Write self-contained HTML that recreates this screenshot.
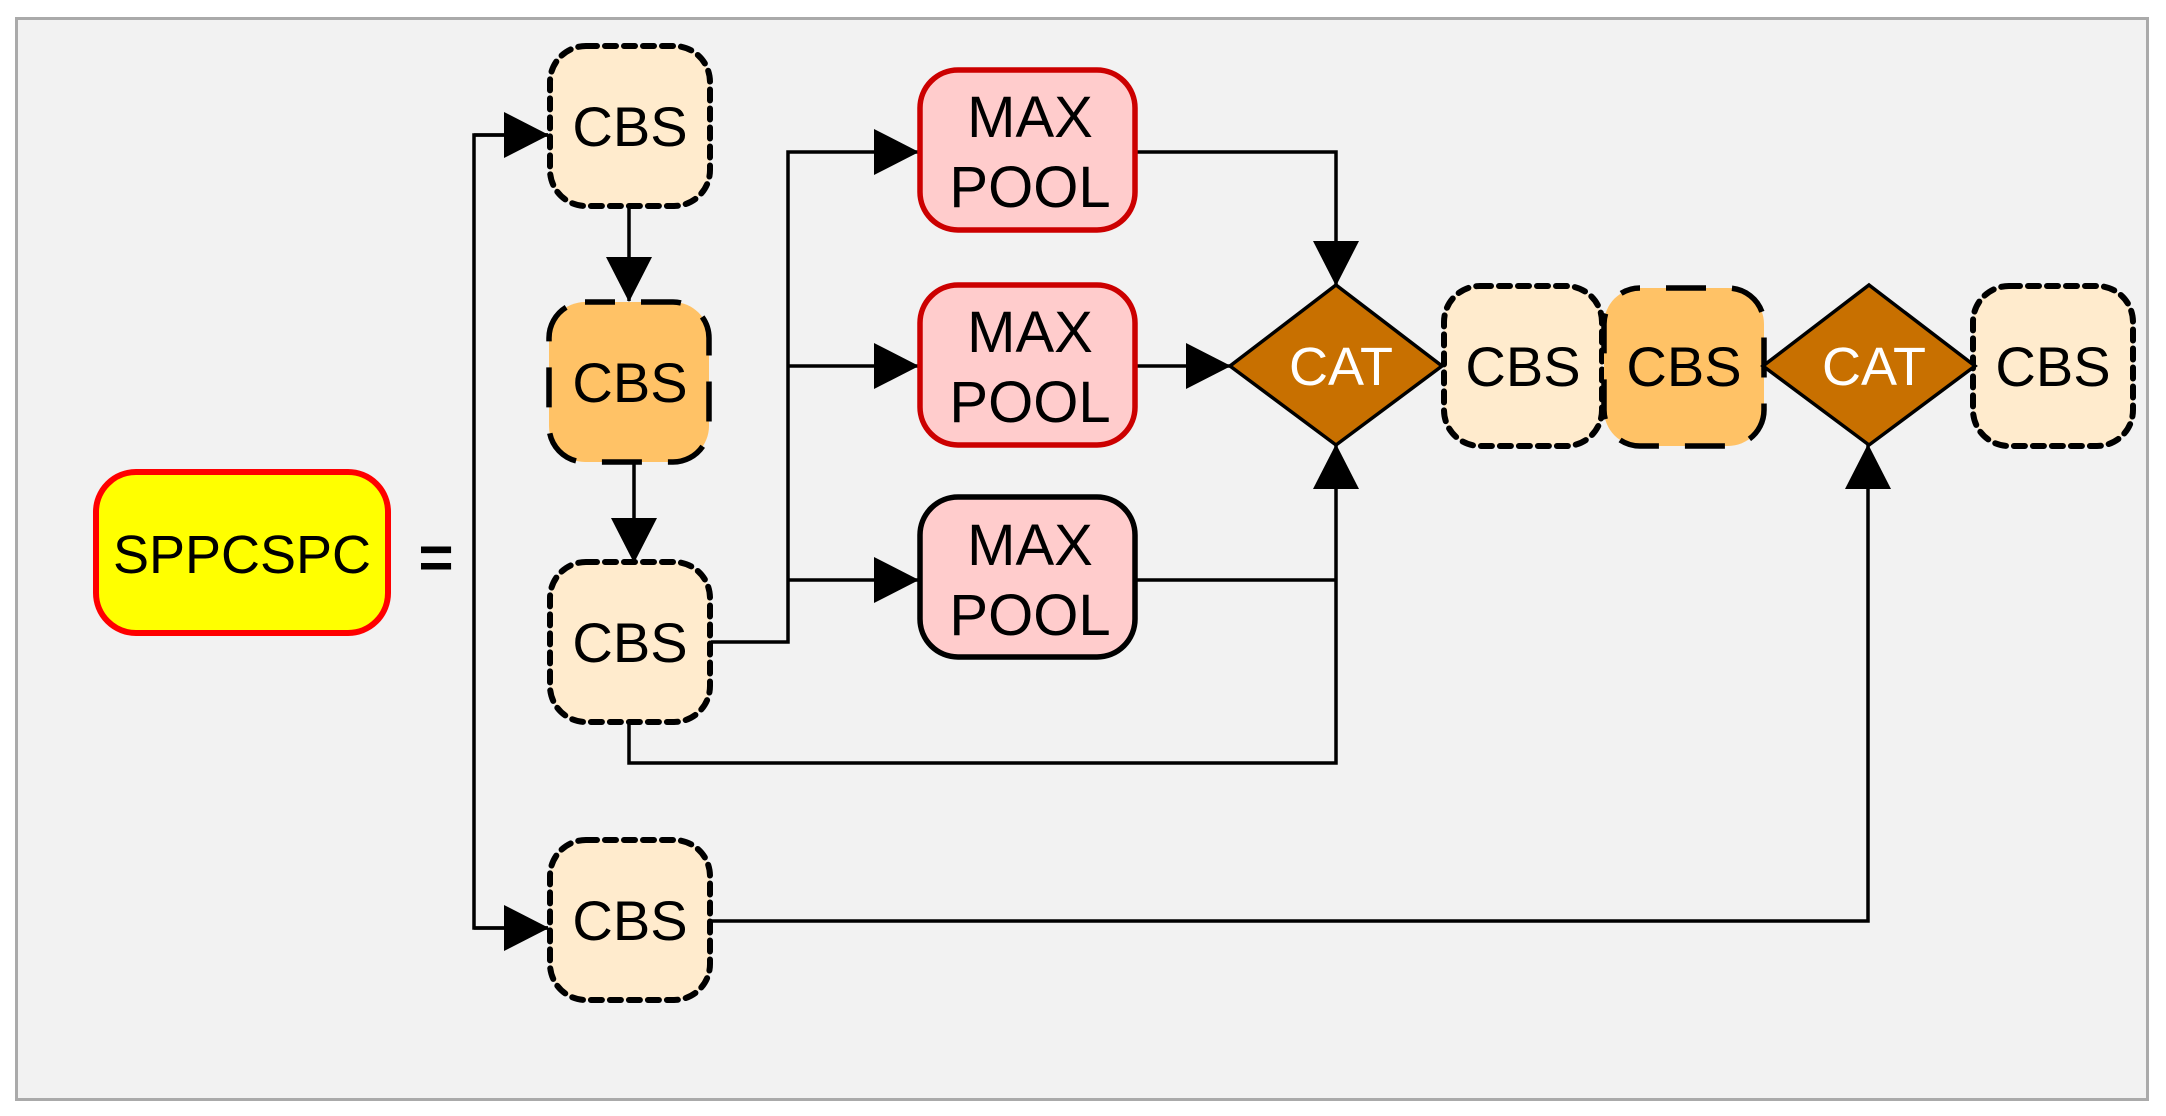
<!DOCTYPE html>
<html><head><meta charset="utf-8"><style>
html,body{margin:0;padding:0;background:#fff;}
svg{display:block;}
text{font-family:"Liberation Sans",sans-serif;}
</style></head><body>
<svg width="2166" height="1116" viewBox="0 0 2166 1116" xmlns="http://www.w3.org/2000/svg">
<defs>
<marker id="a" markerWidth="46" markerHeight="46" refX="44" refY="23" orient="auto" markerUnits="userSpaceOnUse">
<path d="M0,0 L45,23 L0,46 Z" fill="#000"/>
</marker>
</defs>
<rect x="16.5" y="18.5" width="2131" height="1081" fill="#f2f2f2" stroke="#aaa" stroke-width="3"/>

<g fill="none" stroke="#000" stroke-width="3.5">
<path d="M548,135 H474 V928 H548" />
<path d="M474,135 H548" marker-end="url(#a)"/>
<path d="M474,928 H548" marker-end="url(#a)"/>
<path d="M629,207 V301" marker-end="url(#a)"/>
<path d="M634,462 V562" marker-end="url(#a)"/>
<path d="M711,642 H788 V152 H918" marker-end="url(#a)"/>
<path d="M788,366 H918" marker-end="url(#a)"/>
<path d="M788,580 H918" marker-end="url(#a)"/>
<path d="M1135,152 H1336 V285" marker-end="url(#a)"/>
<path d="M1135,366 H1230" marker-end="url(#a)"/>
<path d="M1135,580 H1336"/>
<path d="M629,722 V763 H1336 V445" marker-end="url(#a)"/>
<path d="M711,921 H1868 V445" marker-end="url(#a)"/>
</g>

<rect x="96" y="472" width="292" height="161" rx="40" fill="#ffff00" stroke="#ff0000" stroke-width="6"/>
<text x="242" y="573" font-size="54" text-anchor="middle">SPPCSPC</text>
<text x="436" y="578" font-size="60" text-anchor="middle" font-weight="bold">=</text>

<g fill="#ffebcd" stroke="#000" stroke-width="6" stroke-dasharray="11 8" stroke-linecap="round">
<rect x="550" y="46" width="160" height="160" rx="36"/>
<rect x="550" y="562" width="160" height="160" rx="36"/>
<rect x="550" y="840" width="160" height="160" rx="36"/>
<rect x="1444" y="286" width="158" height="160" rx="36"/>
<rect x="1973" y="286" width="160" height="160" rx="36"/>
</g>
<rect x="549" y="302" width="160" height="160" rx="36" fill="#ffc266"/>
<rect x="549" y="302" width="160" height="160" rx="36" fill="none" stroke="#000" stroke-width="5.5" stroke-dasharray="40 26" stroke-dashoffset="10"/>
<rect x="1604" y="288" width="160" height="158" rx="36" fill="#ffc266"/>
<rect x="1604" y="288" width="160" height="158" rx="36" fill="none" stroke="#000" stroke-width="5.5" stroke-dasharray="40 26" stroke-dashoffset="40"/>

<g stroke-width="5.5" fill="#ffcccc">
<rect x="920" y="70" width="215" height="160" rx="38" stroke="#cc0000"/>
<rect x="920" y="285" width="215" height="160" rx="38" stroke="#cc0000"/>
<rect x="920" y="497" width="215" height="160" rx="38" stroke="#000"/>
</g>
<g font-size="58" text-anchor="middle">
<text x="1030" y="137">MAX</text><text x="1030" y="207">POOL</text>
<text x="1030" y="352">MAX</text><text x="1030" y="422">POOL</text>
<text x="1030" y="565">MAX</text><text x="1030" y="635">POOL</text>
</g>

<g fill="#c87000" stroke="#000" stroke-width="3.5">
<path d="M1336,285 L1442,366 L1336,445 L1230,366 Z"/>
<path d="M1869,285 L1975,366 L1869,445 L1763,366 Z"/>
</g>
<g font-size="54" text-anchor="middle" fill="#fff">
<text x="1341" y="385">CAT</text>
<text x="1874" y="385">CAT</text>
</g>

<g font-size="56" text-anchor="middle">
<text x="630" y="146">CBS</text>
<text x="630" y="402">CBS</text>
<text x="630" y="662">CBS</text>
<text x="630" y="940">CBS</text>
<text x="1523" y="386">CBS</text>
<text x="1684" y="386">CBS</text>
<text x="2053" y="386">CBS</text>
</g>
</svg>
</body></html>
